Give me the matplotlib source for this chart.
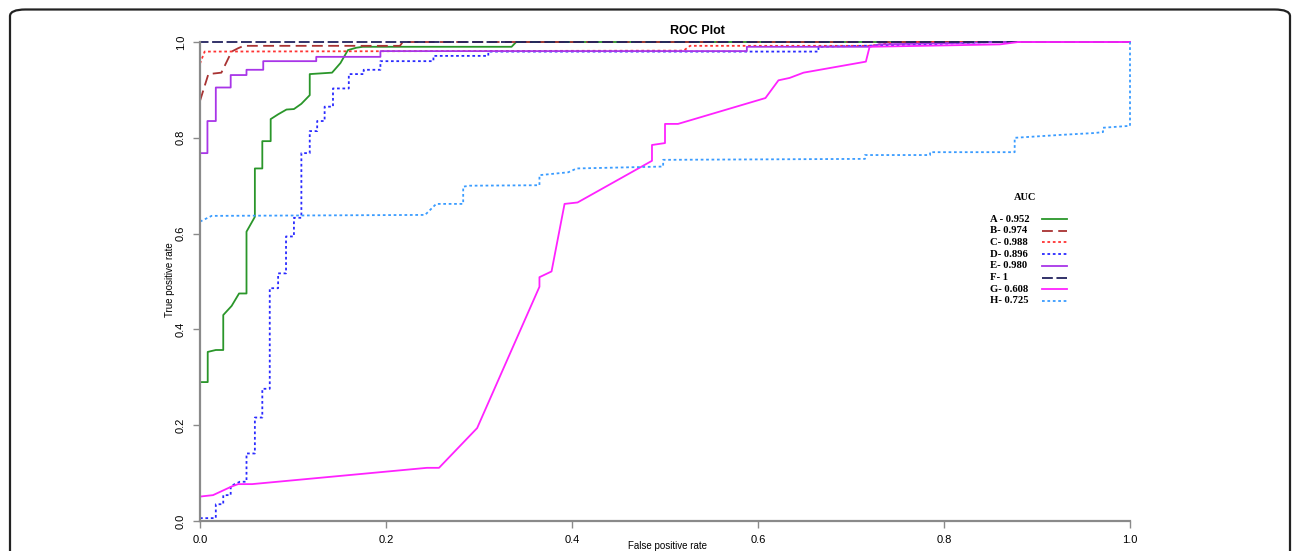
import numpy as np
from matplotlib import pyplot as plt
from matplotlib.patches import FancyBboxPatch
from matplotlib.lines import Line2D

# ROC curves
fpr_A = [0, 0.0083, 0.0083, 0.017, 0.025, 0.025, 0.034, 0.042, 0.050, 0.050, 0.059, 0.059,
         0.067, 0.067, 0.076, 0.076, 0.084, 0.093, 0.101, 0.109, 0.118, 0.118, 0.142, 0.151,
         0.159, 0.168, 0.175, 0.335, 0.340, 1.0]
tpr_A = [0.290, 0.290, 0.353, 0.357, 0.357, 0.430, 0.449, 0.475, 0.475, 0.604, 0.635, 0.736,
         0.736, 0.793, 0.793, 0.839, 0.849, 0.859, 0.860, 0.871, 0.889, 0.933, 0.936, 0.956,
         0.983, 0.988, 0.990, 0.990, 1.0, 1.0]

fpr_B = [0, 0.009, 0.023, 0.034, 0.041, 0.047, 0.215, 0.218, 1.0]
tpr_B = [0.877, 0.933, 0.936, 0.980, 0.987, 0.992, 0.992, 1.0, 1.0]

fpr_C = [0, 0.005, 0.520, 0.527, 0.720, 0.735, 0.750, 1.0]
tpr_C = [0.955, 0.980, 0.982, 0.992, 0.992, 0.996, 1.0, 1.0]

fpr_D = [0, 0.017, 0.017, 0.025, 0.025, 0.033, 0.033, 0.043, 0.050, 0.050, 0.059, 0.059,
         0.067, 0.067, 0.075, 0.075, 0.084, 0.084, 0.0925, 0.0925, 0.101, 0.101, 0.109, 0.109,
         0.118, 0.118, 0.126, 0.126, 0.134, 0.134, 0.143, 0.143, 0.160, 0.160, 0.176, 0.176,
         0.194, 0.194, 0.251, 0.251, 0.310, 0.310, 0.665, 0.665, 0.780, 0.850, 1.0]
tpr_D = [0.006, 0.006, 0.035, 0.035, 0.054, 0.054, 0.073, 0.082, 0.082, 0.141, 0.141, 0.216,
         0.216, 0.276, 0.276, 0.486, 0.486, 0.517, 0.517, 0.594, 0.594, 0.633, 0.633, 0.768,
         0.768, 0.814, 0.814, 0.835, 0.835, 0.865, 0.865, 0.903, 0.903, 0.933, 0.933, 0.942,
         0.942, 0.960, 0.960, 0.971, 0.971, 0.980, 0.980, 0.990, 0.995, 1.0, 1.0]

fpr_E = [0, 0.008, 0.008, 0.017, 0.017, 0.033, 0.033, 0.050, 0.050, 0.068, 0.068, 0.125,
         0.125, 0.194, 0.194, 0.588, 0.588, 0.720, 0.730, 0.870, 1.0]
tpr_E = [0.768, 0.768, 0.835, 0.835, 0.905, 0.905, 0.931, 0.931, 0.942, 0.942, 0.960, 0.960,
         0.969, 0.969, 0.981, 0.981, 0.990, 0.990, 0.995, 1.0, 1.0]

fpr_F = [0, 0, 1.0]
tpr_F = [0, 1.0, 1.0]

fpr_G = [0, 0.014, 0.034, 0.041, 0.056, 0.244, 0.257, 0.298, 0.365, 0.365, 0.378, 0.392,
         0.406, 0.486, 0.486, 0.500, 0.500, 0.514, 0.608, 0.622, 0.634, 0.649, 0.716, 0.720,
         0.860, 0.880, 1.0]
tpr_G = [0.051, 0.054, 0.072, 0.077, 0.077, 0.111, 0.111, 0.194, 0.489, 0.509, 0.521, 0.662,
         0.665, 0.752, 0.785, 0.789, 0.829, 0.829, 0.883, 0.920, 0.925, 0.936, 0.959, 0.990,
         0.995, 1.0, 1.0]

fpr_H = [0, 0.0125, 0.242, 0.254, 0.283, 0.283, 0.290, 0.365, 0.365, 0.396, 0.405, 0.498,
         0.498, 0.715, 0.715, 0.785, 0.785, 0.876, 0.876, 0.925, 0.962, 0.971, 0.971, 1.0, 1.0]
tpr_H = [0.625, 0.637, 0.639, 0.662, 0.662, 0.698, 0.700, 0.701, 0.722, 0.728, 0.736, 0.740,
         0.754, 0.756, 0.764, 0.764, 0.770, 0.770, 0.800, 0.806, 0.810, 0.812, 0.821, 0.825, 1.0]

labels = ["A - 0.952", "B- 0.974", "C- 0.988", "D- 0.896",
          "E- 0.980", "F- 1", "G- 0.608", "H- 0.725"]
colors = ["#2a962a", "#a83232", "#ff3333", "#2a2aff",
          "#a835e8", "#22225e", "#ff22ff", "#3a9cff"]
styles = ["-", (0, (6, 3)), (0, (1.5, 1.5)), (0, (1.5, 1.5)),
          "-", (0, (6, 2)), "-", (0, (1.5, 1.5))]
curves = [(fpr_A, tpr_A), (fpr_B, tpr_B), (fpr_C, tpr_C), (fpr_D, tpr_D),
          (fpr_E, tpr_E), (fpr_F, tpr_F), (fpr_G, tpr_G), (fpr_H, tpr_H)]

W, H = 1292, 551
fig = plt.figure(figsize=(W / 100, H / 100), dpi=100)

# rounded panel border, bottom runs off the image
fig.patches.append(FancyBboxPatch((10 / W, -20 / H), 1280 / W, (H - 9.5 + 20) / H,
                                  boxstyle="round,pad=0,rounding_size=0.012",
                                  transform=fig.transFigure, fill=False,
                                  edgecolor="#222222", linewidth=1.6))

ax = fig.add_axes([200 / W, 30 / H, 930 / W, 479 / H])

for (x, y), c, ls in zip(curves, colors, styles):
    ax.plot(x, y, color=c, linestyle=ls, linewidth=1.3, clip_on=False)

ax.set_xlim(0, 1)
ax.set_ylim(0, 1)
for s in ["top", "right"]:
    ax.spines[s].set_visible(False)
for s in ["left", "bottom"]:
    ax.spines[s].set_color("#8a8a8a")
    ax.spines[s].set_linewidth(1.6)

ticks = np.arange(0, 1.01, 0.2)
ax.set_xticks(ticks)
ax.set_yticks(ticks)
ax.set_xticklabels(["%.1f" % t for t in ticks])
ax.set_yticklabels(["%.1f" % t for t in ticks], rotation=90, va="center")
ax.tick_params(direction="out", length=5, width=1, color="#8a8a8a",
               labelsize=8, pad=5)
for lab in ax.get_xticklabels() + ax.get_yticklabels():
    lab.set_family("Liberation Sans")

# axis titles placed like R's mtext
fig.text(667 / W, 1 - 546 / H, "False positive rate", ha="center", va="center",
         fontsize=7, family="Liberation Sans")
fig.text(170 / W, 1 - 280 / H, "True positive rate", ha="center", va="center",
         rotation=90, fontsize=7, family="Liberation Sans")

fig.text(697 / W, 1 - 31 / H, "ROC Plot", ha="center", va="center",
         fontsize=9, fontweight="bold", family="Liberation Sans")

# legend drawn by hand, like R's legend(bty="n")
fig.text(1025 / W, 1 - 198 / H, "AUC", ha="center", va="center",
         fontsize=7.5, fontweight="bold", family="Liberation Serif")
y0, dy = 219, 11.7
for i, (lab, c, ls) in enumerate(zip(labels, colors, styles)):
    yy = 1 - (y0 + i * dy) / H
    fig.text(990 / W, yy, lab, ha="left", va="center",
             fontsize=7.7, fontweight="bold", family="Liberation Serif")
    fig.lines.append(Line2D([1042 / W, 1067 / W], [yy, yy], transform=fig.transFigure,
                            color=c, linestyle=ls, linewidth=1.3))

fig.savefig("out.png", dpi=100)
